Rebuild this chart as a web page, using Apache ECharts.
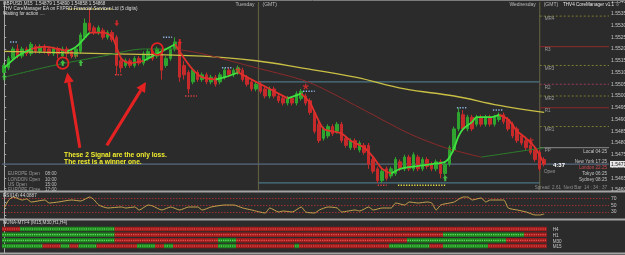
<!DOCTYPE html>
<html><head><meta charset="utf-8">
<script src="https://cdn.jsdelivr.net/npm/echarts@6/dist/echarts.min.js"></script>
<style>html,body{margin:0;padding:0;background:#2b2b2b;}#c{width:625px;height:255px;}</style>
</head><body><div id="c"></div><script>
// ---------- DATA ----------
// candles: [open, close, low, high], one per 15-min bar
const candles = [
[1.5510,1.5513,1.5509,1.5514],[1.5512,1.5516,1.5511,1.5517],[1.5516,1.5520,1.5515,1.5521],[1.5520,1.5517,1.5516,1.5522],
[1.5517,1.5520,1.5516,1.5521],[1.5520,1.5518,1.5517,1.5521],[1.5518,1.5522,1.5517,1.5523],[1.5521,1.5519,1.5518,1.5522],
[1.5519,1.5521,1.5518,1.5522],[1.5521,1.5519,1.5518,1.5522],[1.5520,1.5518,1.5517,1.5521],[1.5518,1.5520,1.5517,1.5521],
[1.5520,1.5518,1.5516,1.5521],[1.5517,1.5520,1.5516,1.5521],[1.5520,1.5518,1.5516,1.5521],[1.5519,1.5517,1.5516,1.5520],
[1.5517,1.5520,1.5516,1.5521],[1.5519,1.5526,1.5518,1.5527],[1.5525,1.5531,1.5524,1.5533],[1.5531,1.5528,1.5527,1.5537],
[1.5529,1.5527,1.5526,1.5530],[1.5527,1.5529,1.5526,1.5530],[1.5528,1.5525,1.5524,1.5529],[1.5525,1.5527,1.5524,1.5528],
[1.5527,1.5524,1.5523,1.5528],[1.5525,1.5513,1.5509,1.5526],[1.5515,1.5512,1.5510,1.5516],[1.5513,1.5515,1.5512,1.5516],
[1.5515,1.5513,1.5512,1.5516],[1.5513,1.5516,1.5512,1.5517],[1.5516,1.5514,1.5513,1.5517],[1.5514,1.5518,1.5513,1.5519],
[1.5516,1.5519,1.5515,1.5520],[1.5519,1.5516,1.5515,1.5520],[1.5517,1.5520,1.5516,1.5521],[1.5519,1.5511,1.5507,1.5520],
[1.5513,1.5516,1.5512,1.5517],[1.5516,1.5520,1.5515,1.5521],[1.5520,1.5523,1.5519,1.5525],[1.5523,1.5508,1.5506,1.5524],
[1.5513,1.5509,1.5507,1.5515],[1.5510,1.5503,1.5501,1.5511],[1.5506,1.5511,1.5505,1.5512],[1.5510,1.5507,1.5506,1.5511],
[1.5507,1.5509,1.5506,1.5510],[1.5509,1.5506,1.5505,1.5510],[1.5506,1.5508,1.5505,1.5509],[1.5508,1.5505,1.5504,1.5509],
[1.5506,1.5509,1.5505,1.5510],[1.5508,1.5511,1.5507,1.5512],[1.5511,1.5509,1.5508,1.5512],[1.5509,1.5511,1.5508,1.5512],
[1.5510,1.5512,1.5509,1.5513],[1.5511,1.5507,1.5506,1.5512],[1.5508,1.5505,1.5504,1.5509],[1.5506,1.5503,1.5502,1.5507],
[1.5503,1.5505,1.5502,1.5506],[1.5505,1.5502,1.5501,1.5506],[1.5503,1.5500,1.5499,1.5504],[1.5500,1.5503,1.5499,1.5504],
[1.5503,1.5500,1.5499,1.5504],[1.5500,1.5498,1.5497,1.5501],[1.5499,1.5497,1.5496,1.5500],[1.5497,1.5499,1.5496,1.5500],
[1.5499,1.5497,1.5496,1.5500],[1.5497,1.5501,1.5496,1.5502],[1.5499,1.5502,1.5498,1.5503],[1.5500,1.5497,1.5496,1.5501],
[1.5498,1.5493,1.5492,1.5499],[1.5493,1.5485,1.5484,1.5494],[1.5488,1.5481,1.5480,1.5489],[1.5482,1.5486,1.5481,1.5487],
[1.5483,1.5487,1.5482,1.5488],[1.5487,1.5484,1.5483,1.5488],[1.5485,1.5488,1.5484,1.5489],[1.5488,1.5481,1.5480,1.5489],
[1.5482,1.5479,1.5478,1.5483],[1.5478,1.5481,1.5477,1.5482],[1.5481,1.5478,1.5477,1.5482],[1.5477,1.5480,1.5476,1.5481],
[1.5479,1.5476,1.5475,1.5480],[1.5479,1.5471,1.5469,1.5480],[1.5473,1.5468,1.5467,1.5474],[1.5469,1.5464,1.5463,1.5470],
[1.5464,1.5468,1.5463,1.5469],[1.5469,1.5465,1.5464,1.5470],[1.5466,1.5469,1.5465,1.5470],[1.5467,1.5473,1.5466,1.5474],
[1.5472,1.5469,1.5468,1.5473],[1.5469,1.5474,1.5468,1.5475],[1.5474,1.5469,1.5468,1.5475],[1.5469,1.5475,1.5468,1.5476],
[1.5474,1.5469,1.5468,1.5475],[1.5469,1.5473,1.5468,1.5474],[1.5473,1.5470,1.5469,1.5474],[1.5471,1.5469,1.5468,1.5472],
[1.5469,1.5472,1.5468,1.5473],[1.5472,1.5467,1.5465,1.5473],[1.5467,1.5471,1.5466,1.5472],[1.5471,1.5478,1.5470,1.5479],
[1.5477,1.5486,1.5476,1.5487],[1.5486,1.5493,1.5485,1.5495],[1.5492,1.5486,1.5485,1.5494],[1.5486,1.5491,1.5485,1.5492],
[1.5491,1.5486,1.5485,1.5492],[1.5488,1.5491,1.5487,1.5492],[1.5491,1.5488,1.5487,1.5492],[1.5488,1.5491,1.5487,1.5492],
[1.5491,1.5488,1.5487,1.5492],[1.5488,1.5491,1.5487,1.5492],[1.5490,1.5492,1.5489,1.5493],[1.5492,1.5489,1.5488,1.5493],
[1.5490,1.5486,1.5485,1.5491],[1.5488,1.5483,1.5482,1.5489],[1.5486,1.5481,1.5480,1.5487],[1.5483,1.5480,1.5479,1.5484],
[1.5481,1.5478,1.5477,1.5482],[1.5479,1.5476,1.5475,1.5480],[1.5477,1.5473,1.5472,1.5478],[1.5476,1.5469,1.5468,1.5477],
[1.5473,1.5471,1.5470,1.5474]
];
// slow yellow moving average [bar, price]
const yellowMA = [[0,1.5519],[22,1.5518],[44,1.5517],[56,1.5515],[66,1.5512],[78,1.5508],[89,1.5503],[100,1.5500],[110,1.5496],[120,1.5493]];
// thin trend MA [bar, price, rising?]
const slowMA = [[0,1.5508,1],[11,1.5513,1],[22,1.5517,1],[31,1.5520,1],[38,1.5520,0],[44,1.5518,0],[56,1.5512,0],[66,1.5507,0],[71,1.5503,0],[80,1.5494,0],[90,1.5484,0],[98,1.5478,0],[106,1.5474,1],[113,1.5476,1],[120,1.5478,1]];
// fast trend line [bar, price, rising?]
const fastMA = [[0,1.5512,1],[3,1.5517,1],[6,1.5520,0],[9,1.5521,0],[12,1.5520,0],[14,1.5519,1],[16,1.5521,1],[18,1.5525,1],[19,1.5527,0],[22,1.5527,0],[24,1.5525,0],[26,1.5516,0],[28,1.5514,0],[31,1.5515,1],[33,1.5517,1],[35,1.5519,1],[38,1.5522,0],[40,1.5516,0],[42,1.5511,0],[44,1.5508,0],[47,1.5507,1],[49,1.5508,1],[52,1.5510,0],[54,1.5508,0],[57,1.5505,0],[60,1.5502,0],[63,1.5499,1],[66,1.5501,0],[68,1.5497,0],[69,1.5493,0],[71,1.5486,0],[73,1.5485,0],[75,1.5484,0],[77,1.5481,0],[80,1.5478,0],[82,1.5474,0],[84,1.5469,0],[86,1.5467,1],[88,1.5469,1],[91,1.5470,1],[95,1.5471,1],[98,1.5472,1],[99,1.5474,1],[100,1.5478,1],[101,1.5483,1],[102,1.5486,1],[104,1.5489,1],[105,1.5491,1],[108,1.5491,1],[110,1.5492,0],[112,1.5490,0],[114,1.5485,0],[116,1.5482,0],[118,1.5478,0],[120,1.5471,0]];
// signal markers [bar, price]
const buyArrows = [[0,1.5508],[13,1.5514],[17,1.5514],[98,1.5465]];
const sellArrows = [[25,1.5531],[39,1.5523]];
const exitStars = [[52,1.5511],[67,1.5504],[117,1.5481]];
// dotted level rows [fromBar, toBar, price]
const blueDots = [[1.3,3.1,1.5523],[35.3,37.3,1.5525],[48.4,50.6,1.5512],[66.4,69,1.5502],[100.6,103,1.5495],[108.6,110.8,1.5494]];
const redDots = [[15,16.4,1.5517],[24.6,26.2,1.5509],[40.2,42.8,1.5500],[83,85,1.5462]];
const yellowDots = [[14.2,24,1.5537],[87.5,98,1.5462]];
// day separators (bar position) and day labels
const daySeps = [56.5, 119];
const dayNames = ['Tuesday', 'Wednesday'];
// pivot levels
const pivotNames = ['MR4','R3','MR3','R2','MR2','R1','MR1','PP'];
const pivotValues = [1.5534,1.5521,1.5513,1.5505,1.5500,1.5495,1.5487,1.5478];
const pivotKinds = ['m','r','m','r2','m','r','m','p'];
// RSI(14) [bar, value]
const rsi = [[0,41.8],[1,65.7],[2,74.6],[4,65.7],[5,68.7],[6,59.7],[9,65.7],[10,56.7],[12,59.7],[15,65.7],[17,62.7],[19,74.6],[20,65.7],[21,50.7],[23,41.8],[26,44.8],[27,41.8],[29,44.8],[30,35.8],[32,50.7],[33,47.8],[35,35.8],[37,44.8],[39,35.8],[41,44.8],[43,44.8],[44,35.8],[46,44.8],[49,50.7],[51,50.7],[53,41.8],[55,35.8],[58,26.9],[59,41.8],[61,29.9],[62,32.8],[64,29.9],[66,44.8],[67,29.9],[69,26.9],[70,35.8],[72,44.8],[74,41.8],[75,29.9],[78,35.8],[79,32.8],[81,44.8],[82,35.8],[84,41.8],[86,41.8],[87,56.7],[89,50.7],[90,59.7],[92,56.7],[94,59.7],[95,56.7],[96,35.8],[97,50.7],[99,56.7],[100,59.7],[102,74.6],[103,74.6],[104,65.7],[106,71.6],[107,59.7],[108,65.7],[111,65.7],[112,41.8],[114,35.8],[116,29.9],[118,20.9],[119,20.9],[120,23.9]];
const rsiLevels = [70, 50, 30];
// multi-timeframe trend runs: [endBarExclusive, up?]
const mtfNames = ['H4','H1','M30','M15'];
const mtfH4 = [[4,0],[25,1],[121,0]];
const mtfH1 = [[25,1],[98,0],[116,1],[121,0]];
const mtfM30 = [[25,1],[48,0],[52,1],[90,0],[112,1],[121,0]];
const mtfM15 = [[9,1],[13,0],[15,1],[17,0],[21,1],[30,0],[34,1],[36,0],[38,1],[48,0],[52,1],[65,0],[66,1],[86,0],[95,1],[98,0],[108,1],[121,0]];
// annotations
const circleMarks = [[13,1.5514],[34,1.5520]];
const arrowMarks = [[[16.8,1.5478],[14,1.5510]],[[22.8,1.5479],[31.5,1.5506]]];
const noteAnchor = [13.3,1.5475];
const noteLines = ['These 2 Signal are the only loss.','The rest is a winner one.'];

// ---------- CHART ----------
const FONT = '"Liberation Sans", Arial, sans-serif';
const X_MIN = -0.5, X_MAX = 134.4;
const GREEN = '#2fa52f', RED = '#c62a2a';
const chart = echarts.init(document.getElementById('c'), null, {renderer: 'canvas'});

function colored(pts, upC, dnC, width, z) {
  const out = []; let s = 0;
  for (let k = 1; k <= pts.length; k++) {
    if (k === pts.length || pts[k][2] !== pts[s][2]) {
      const seg = pts.slice(s, Math.min(k + 1, pts.length)).map(p => [p[0], p[1]]);
      if (seg.length > 1) out.push({type: 'line', xAxisIndex: 0, yAxisIndex: 0, data: seg, symbol: 'none', smooth: 0.3,
        lineStyle: {color: pts[s][2] ? upC : dnC, width: width}, silent: true, z: z});
      s = k;
    }
  }
  return out;
}
function dotRows(rows, color) {
  return rows.map(r => ({type: 'line', xAxisIndex: 0, yAxisIndex: 0, data: [[r[0], r[2]], [r[1], r[2]]], symbol: 'none',
    lineStyle: {color: color, width: 1.5, type: [1.3, 1.4]}, silent: true, z: 6}));
}
const candleData = candles.map((c, i) => [i, c[0], c[1], c[2], c[3]]);
const lastClose = candles[candles.length - 1][1];
const dayRange = candles.slice(Math.ceil(daySeps[0]), Math.floor(daySeps[1]));
const dayHigh = Math.max(...dayRange.map(c => c[3]));
const dayLow = Math.min(...dayRange.map(c => c[2]));

const mtfData = [];
[mtfH4, mtfH1, mtfM30, mtfM15].forEach((runs, r) => {
  let start = 0;
  runs.forEach(([end, up]) => { for (let i = start; i < end; i++) mtfData.push([i, 3 - r, up]); start = end; });
});

const pivotStyle = {m: {color: '#7e7d2e', type: [2, 2], width: 1}, r: {color: '#8c2a2a', type: 'solid', width: 1},
  r2: {color: '#9a3c5c', type: [2, 2], width: 1}, p: {color: '#8a8a8a', type: 'solid', width: 1}};

const series = [];
// day separators + day high/low box
daySeps.forEach(d => series.push({type: 'line', xAxisIndex: 0, yAxisIndex: 0, data: [[d, 1.5460], [d, 1.5540]], symbol: 'none',
  lineStyle: {color: '#5e5d40', width: 1.2}, silent: true, z: 1}));
[dayHigh, dayLow].forEach(v => series.push({type: 'line', xAxisIndex: 0, yAxisIndex: 0, data: [[daySeps[0], v], [daySeps[1], v]],
  symbol: 'none', lineStyle: {color: '#4a7686', width: 1.2}, silent: true, z: 1}));
pivotValues.forEach((v, k) => series.push({type: 'line', xAxisIndex: 0, yAxisIndex: 0, data: [[daySeps[1], v], [X_MAX, v]],
  symbol: 'none', lineStyle: pivotStyle[pivotKinds[k]], silent: true, z: 1}));
// bid line at last close
series.push({type: 'line', xAxisIndex: 0, yAxisIndex: 0, data: [[X_MIN, lastClose], [X_MAX, lastClose]], symbol: 'none',
  lineStyle: {color: '#586a80', width: 1.2}, silent: true, z: 2});
// candles
series.push({type: 'candlestick', xAxisIndex: 0, yAxisIndex: 0, data: candleData, encode: {x: 0, y: [1, 2, 3, 4]},
  barWidth: 3, z: 3,
  itemStyle: {color: GREEN, color0: RED, borderColor: GREEN, borderColor0: RED, borderWidth: 1}});
series.push({type: 'line', xAxisIndex: 0, yAxisIndex: 0, data: yellowMA, symbol: 'none', smooth: 0.4,
  lineStyle: {color: '#c9bf45', width: 1.3}, silent: true, z: 4});
series.push(...colored(slowMA, '#2b7f2b', '#8a2a2a', 1, 4));
series.push(...colored(fastMA, '#3fe03f', '#e0302c', 1.8, 5));
series.push(...dotRows(blueDots, '#8fb4e6'), ...dotRows(redDots, '#e04040'), ...dotRows(yellowDots, '#e8d84a'));
series.push({type: 'scatter', xAxisIndex: 0, yAxisIndex: 0, data: buyArrows, symbol: 'path://M5,0 L10,5 L7,5 L7,10 L3,10 L3,5 L0,5 Z',
  symbolSize: [5, 6], itemStyle: {color: '#4ae04a'}, z: 8, silent: true});
series.push({type: 'scatter', xAxisIndex: 0, yAxisIndex: 0, data: sellArrows, symbol: 'path://M3,0 L7,0 L7,5 L10,5 L5,10 L0,5 L3,5 Z',
  symbolSize: [5, 6], itemStyle: {color: '#e82828'}, z: 8, silent: true});
series.push({type: 'scatter', xAxisIndex: 0, yAxisIndex: 0, data: exitStars,
  symbol: 'path://M4,0 L6,0 L6,3.5 L9.3,2.4 L10,4.3 L6.7,5.4 L8.7,8.3 L7.1,9.5 L5,6.6 L2.9,9.5 L1.3,8.3 L3.3,5.4 L0,4.3 L0.7,2.4 L4,3.5 Z',
  symbolSize: 6, itemStyle: {color: '#ee2a2a'}, z: 8, silent: true});
// RSI
series.push({type: 'line', xAxisIndex: 1, yAxisIndex: 1, data: rsi, symbol: 'none', smooth: 0.2,
  lineStyle: {color: '#c9a24c', width: 1}, silent: true, z: 5,
  markLine: {silent: true, symbol: 'none', label: {show: false}, lineStyle: {color: '#9c2f2f', width: 1, type: [1.5, 1.5]},
    data: rsiLevels.map(v => ({yAxis: v}))}});
// MTF trend rows
series.push({type: 'custom', xAxisIndex: 2, yAxisIndex: 2, data: mtfData, silent: true,
  renderItem: (params, api) => {
    const c = api.coord([api.value(0), api.value(1)]);
    const w = api.size([1, 0])[0];
    const up = api.value(2);
    const base = up ? '#1e8a1e' : '#a31c1c', dot = up ? '#6adf6a' : '#ea5555';
    return {type: 'group', children: [
      {type: 'rect', shape: {x: c[0] - w / 2, y: c[1] - 2.2, width: w + 0.3, height: 4.4}, style: {fill: base}},
      {type: 'rect', shape: {x: c[0] - w / 2 + 0.6, y: c[1] - 0.6, width: 1.2, height: 1.2}, style: {fill: dot}},
      {type: 'rect', shape: {x: c[0] + 0.6, y: c[1] - 0.6, width: 1.2, height: 1.2}, style: {fill: dot}}
    ]};
  }});

const xAx = g => ({type: 'value', gridIndex: g, min: X_MIN, max: X_MAX, show: false});
const yBase = {position: 'right', splitLine: {show: false},
  axisLine: {show: true, lineStyle: {color: '#a6a6a6', width: 1}},
  axisTick: {show: true, length: 2, lineStyle: {color: '#a6a6a6'}},
  axisLabel: {fontSize: 5, color: '#c6c6c6', margin: 2, fontFamily: FONT}};

chart.setOption({
  animation: false,
  backgroundColor: '#2b2b2b',
  grid: [
    {left: 2, right: 16, top: 2, height: 188, outerBoundsMode: 'none', containLabel: false},
    {left: 2, right: 16, top: 188.5, height: 33.5, outerBoundsMode: 'none', containLabel: false},
    {left: 2, right: 16, top: 222, height: 31, outerBoundsMode: 'none', containLabel: false}
  ],
  xAxis: [xAx(0), xAx(1), xAx(2)],
  yAxis: [
    Object.assign({}, yBase, {type: 'value', gridIndex: 0, min: 1.5460, max: 1.5540, interval: 0.0005,
      axisLabel: Object.assign({}, yBase.axisLabel, {formatter: v => v.toFixed(5)})}),
    Object.assign({}, yBase, {type: 'value', gridIndex: 1, min: 0, max: 100, interval: 10,
      axisLabel: Object.assign({}, yBase.axisLabel, {formatter: v => (v === 70 || v === 50 || v === 30) ? String(v) : ''})}),
    Object.assign({}, yBase, {type: 'value', gridIndex: 2, min: -1.235, max: 4.235, axisTick: {show: false},
      axisLabel: {show: false}})
  ],
  series: series
});

// ---------- overlay texts / annotations ----------
const P = (g, p) => chart.convertToPixel({xAxisIndex: g, yAxisIndex: g}, p);
function T(text, x, y, o) {
  o = o || {};
  return {type: 'text', x: x, y: y, z: 100, silent: true, scaleX: o.sx || 1,
    style: {text: text, fill: o.c || '#c8c8c8', font: o.f || ('4.6px ' + FONT), align: o.a || 'left', verticalAlign: 'middle'}};
}
const g = [];
// panel frames
[[0.5, 1, '#7c7c7c'], [191.5, 2, '#a4a4a4'], [219.5, 2, '#a4a4a4'], [253.5, 2, '#a4a4a4']].forEach(([y, w, c]) =>
  g.push({type: 'line', z: 90, silent: true, shape: {x1: 0, y1: y, x2: 625, y2: y}, style: {stroke: c, lineWidth: w}}));
// header texts
g.push(T('GBPUSD,M15  1.54879 1.54890 1.54858 1.54868', 3, 4, {c: '#dcdcdc'}));
g.push(T('THV CoreManager EA on FXPRO Financial Services Ltd (5 digits)', 3, 8.7, {c: '#dcdcdc'}));
g.push(T('Waiting for action ....', 3, 13.3, {c: '#dcdcdc'}));
daySeps.forEach((d, k) => {
  const px = P(0, [d, 1.55])[0];
  g.push(T(dayNames[k], px - 4, 4.5, {a: 'right', c: '#bdbdbd', f: '5px ' + FONT}));
  g.push(T('(GMT)', px + 4, 4.5, {c: '#bdbdbd', f: '5px ' + FONT}));
});
g.push(T('THV4 CoreManager v1.1 \u263A', 563, 4.5, {c: '#e6e6e6', f: '4.6px ' + FONT}));
// pivot labels
pivotNames.forEach((n, k) => {
  const p = P(0, [daySeps[1], pivotValues[k]]);
  g.push(T(n, p[0] + 5, p[1] + 3, {c: '#9c9c9c'}));
});
g.push(T('Open', 544, 172, {c: '#9c9c9c'}));
// session clock
[['Local 04:25', 152, '#c4c4c4'], ['New York 17:25', 161.5, '#c4c4c4'], ['London 22:25', 167.5, '#d44a4a'],
 ['Tokyo 06:25', 173.5, '#c4c4c4'], ['Sydney 08:25', 179.5, '#c4c4c4']].forEach(([t, y, c]) => g.push(T(t, 607, y, {a: 'right', c: c})));
g.push(T('4:37', 553, 165, {c: '#ffffff', f: 'bold 6px ' + FONT}));
g.push(T('Spread  2.61  Next Bar  14 : 34 : 37', 607, 188, {a: 'right', c: '#8e8e8e'}));
// market session table
[['EUROPE Open', '08:00', 174], ['LONDON Open', '10:00', 179.3], ['US Open', '15:00', 184.6], ['EUROPE Close', '17:00', 189.6]].forEach(([a, b, y]) => {
  g.push(T(a, 8, y, {c: '#9a9a9a'})); g.push(T(b, 45, y, {c: '#c0c0c0'}));
});
// current price tag
const lp = P(0, [X_MAX, lastClose]);
g.push({type: 'rect', z: 95, silent: true, shape: {x: 610, y: lp[1] - 3.2, width: 16, height: 6.4}, style: {fill: '#e8e8e8'}});
g.push(T(lastClose.toFixed(5), 611, lp[1], {c: '#202020', f: '5px ' + FONT}));
// sub-window labels
g.push(T('RSI(14) 44.0887', 3, 196, {c: '#d4d4d4'}));
g.push(T('NUNA-MTF4 (M15,M30,H1,H4)', 3, 222.8, {c: '#d4d4d4'}));
mtfNames.forEach((n, r) => { const p = P(2, [121, 3 - r]); g.push(T(n, p[0] + 4, p[1] + 1, {c: '#c8c8c8'})); });
// red circles
circleMarks.forEach(c => { const p = P(0, c); g.push({type: 'circle', z: 60, silent: true, shape: {cx: p[0], cy: p[1], r: 5.8}, style: {fill: 'none', stroke: '#e42222', lineWidth: 1.8}}); });
// red arrows
arrowMarks.forEach(([a, b]) => {
  const p0 = P(0, a), p1 = P(0, b);
  const dx = p1[0] - p0[0], dy = p1[1] - p0[1], L = Math.hypot(dx, dy), ux = dx / L, uy = dy / L;
  const hl = 10, hw = 5, bx = p1[0] - ux * hl, by = p1[1] - uy * hl;
  g.push({type: 'line', z: 60, silent: true, shape: {x1: p0[0], y1: p0[1], x2: bx, y2: by}, style: {stroke: '#e42222', lineWidth: 3}});
  g.push({type: 'polygon', z: 60, silent: true, shape: {points: [p1, [bx - uy * hw, by + ux * hw], [bx + uy * hw, by - ux * hw]]}, style: {fill: '#e42222'}});
});
// yellow note
const np = P(0, noteAnchor);
noteLines.forEach((t, k) => g.push(T(t, np[0], np[1] + k * 7.5, {c: '#f2ee2e', f: 'bold 7px ' + FONT, sx: 0.95})));
chart.setOption({graphic: g});
</script></body></html>
